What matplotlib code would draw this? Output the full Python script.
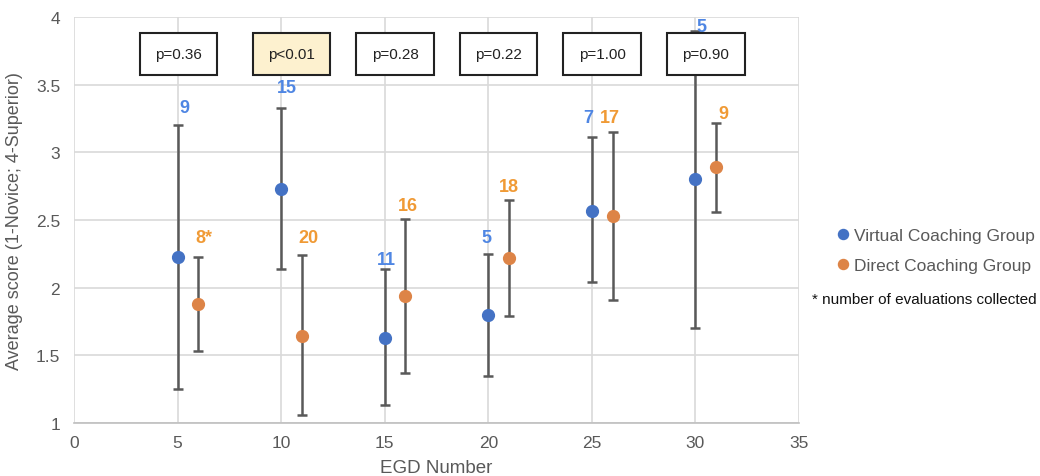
import numpy as np
import matplotlib.pyplot as plt
from matplotlib.patches import Rectangle

plt.rcParams['font.family'] = ['Liberation Sans', 'DejaVu Sans']

# EGD number, mean score and error-bar ends for each group
virt_x = [5, 10, 15, 20, 25, 30]
virt_y = [2.23, 2.73, 1.63, 1.80, 2.57, 2.80]
virt_lo = [1.25, 2.14, 1.13, 1.35, 2.04, 1.70]
virt_hi = [3.20, 3.33, 2.14, 2.25, 3.11, 3.90]
virt_n = ['9', '15', '11', '5', '7', '5']

dir_x = [6, 11, 16, 21, 26, 31]
dir_y = [1.88, 1.64, 1.94, 2.22, 2.53, 2.89]
dir_lo = [1.53, 1.06, 1.37, 1.79, 1.91, 2.56]
dir_hi = [2.23, 2.24, 2.51, 2.65, 3.15, 3.22]
dir_n = ['8*', '20', '16', '18', '17', '9']

p_labels = ['p=0.36', 'p<0.01', 'p=0.28', 'p=0.22', 'p=1.00', 'p=0.90']
p_x = [5.05, 10.5, 15.5, 20.5, 25.5, 30.5]
p_hl = [False, True, False, False, False, False]

# where the count labels sit (data coords)
virt_lbl_x = [5.35, 10.3, 15.1, 19.9, 24.83, 30.3]
virt_lbl_y = [3.33, 3.48, 2.21, 2.37, 3.26, 3.93]
dir_lbl_x = [6.25, 11.3, 16.1, 21.0, 25.85, 31.35]
dir_lbl_y = [2.37, 2.37, 2.61, 2.75, 3.26, 3.29]

blue = '#4472C4'
orange = '#DD8447'
blue_txt = '#4F86E3'
orange_txt = '#F09A35'
grey = '#595959'

fig = plt.figure(figsize=(10.4, 4.77), dpi=100)
ax = fig.add_axes([74/1040, 1-424/477, (799-74)/1040, (424-18)/477])

ax.set_xlim(0, 35)
ax.set_ylim(1, 4)
ax.set_xticks(np.arange(0, 36, 5))
ax.set_yticks(np.arange(1, 4.01, 0.5))
ax.set_yticklabels(['1', '1.5', '2', '2.5', '3', '3.5', '4'])
ax.grid(True, color='#d9d9d9', lw=1.2)
ax.set_axisbelow(True)
for s in ['top', 'right', 'left']:
    ax.spines[s].set_visible(False)
ax.spines['bottom'].set_color('#bfbfbf')
ax.spines['bottom'].set_linewidth(1.2)
ax.tick_params(length=0, labelsize=12.5, colors=grey)
ax.tick_params(axis='y', pad=10)
ax.tick_params(axis='x', pad=9)

ax.set_xlabel('EGD Number', fontsize=13.5, color=grey, labelpad=6)
ax.set_ylabel('Average score (1-Novice; 4-Superior)', fontsize=13, color=grey, labelpad=9)

vy = np.array(virt_y)
dy = np.array(dir_y)
ax.errorbar(virt_x, vy, yerr=[vy - np.array(virt_lo), np.array(virt_hi) - vy],
            fmt='none', ecolor=grey, elinewidth=1.8, capsize=3.8, capthick=1.8, zorder=3)
ax.errorbar(dir_x, dy, yerr=[dy - np.array(dir_lo), np.array(dir_hi) - dy],
            fmt='none', ecolor=grey, elinewidth=1.8, capsize=3.8, capthick=1.8, zorder=3)
ax.plot(virt_x, virt_y, 'o', color=blue, ms=8.5, zorder=4,
        label='Virtual Coaching Group')
ax.plot(dir_x, dir_y, 'o', color=orange, ms=8.5, zorder=4,
        label='Direct Coaching Group')

for x, y, t in zip(virt_lbl_x, virt_lbl_y, virt_n):
    ax.text(x, y, t, color=blue_txt, fontsize=13, fontweight='bold',
            ha='center', va='center', zorder=6)
for x, y, t in zip(dir_lbl_x, dir_lbl_y, dir_n):
    ax.text(x, y, t, color=orange_txt, fontsize=13, fontweight='bold',
            ha='center', va='center', zorder=6)

box_w, box_h, box_y = 3.75, 0.31, 3.725
for x, t, hl in zip(p_x, p_labels, p_hl):
    ax.add_patch(Rectangle((x - box_w/2, box_y - box_h/2), box_w, box_h,
                           fc='#FDF1CF' if hl else 'white', ec='#222222',
                           lw=1.5, zorder=7))
    ax.text(x, box_y, t, fontsize=11, color='#222222', ha='center', va='center',
            zorder=8)

leg = fig.legend(loc='upper left', bbox_to_anchor=(826/1040, 1-222/477),
                 frameon=False, fontsize=12.5, handletextpad=0.0,
                 handlelength=1.2, labelspacing=0.85, markerscale=0.85,
                 borderaxespad=0)
for t in leg.get_texts():
    t.set_color(grey)
fig.text(812/1040, 1-300/477, '* number of evaluations collected',
         fontsize=11, color='#111111', va='center')

fig.savefig('out.png', dpi=100)
